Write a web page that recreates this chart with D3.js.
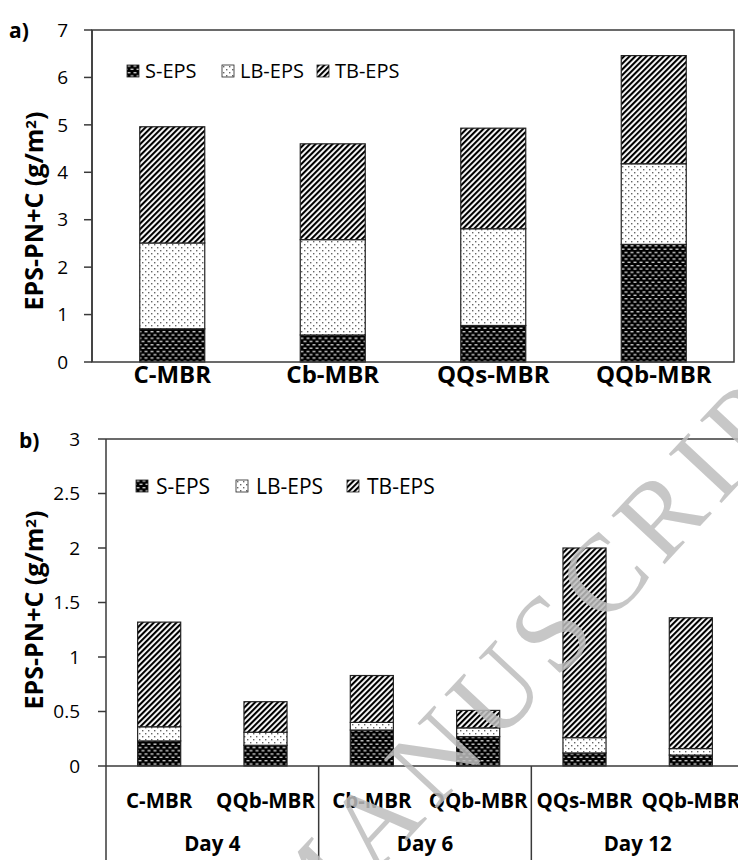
<!DOCTYPE html>
<html>
<head>
<meta charset="utf-8">
<script src="https://cdn.jsdelivr.net/npm/d3@7"></script>
<style>
  body { margin: 0; background: #fff; }
  svg { display: block; font-family: "Open Sans", "Noto Sans", sans-serif; }
</style>
</head>
<body>
<div id="chart"></div>
<script>
// EPS fractions (PN + C, g/m2) — stacked bars, two panels

// ---- Panel a data ----
const catsA = ["C-MBR", "Cb-MBR", "QQs-MBR", "QQb-MBR"];
const sEpsA = [0.70, 0.57, 0.77, 2.48];
const lbEpsA = [1.81, 2.01, 2.04, 1.70];
const tbEpsA = [2.45, 2.02, 2.12, 2.28];
const ticksA = [0, 1, 2, 3, 4, 5, 6, 7];

// ---- Panel b data ----
const catsB = ["C-MBR", "QQb-MBR", "Cb-MBR", "QQb-MBR", "QQs-MBR", "QQb-MBR"];
const daysB = ["Day 4", "Day 6", "Day 12"];
const sEpsB = [0.23, 0.19, 0.33, 0.27, 0.12, 0.10];
const lbEpsB = [0.13, 0.12, 0.07, 0.08, 0.14, 0.06];
const tbEpsB = [0.96, 0.28, 0.43, 0.16, 1.74, 1.20];
const ticksB = [0, 0.5, 1, 1.5, 2, 2.5, 3];

const seriesNames = ["S-EPS", "LB-EPS", "TB-EPS"];
const fills = ["url(#pat-s)", "url(#pat-lb)", "url(#pat-tb)"];

const W = 738, H = 860;
const axisColor = "#3a3a3a";

const svg = d3.select("#chart").append("svg")
  .attr("width", W)
  .attr("height", H);

// ---- patterns ----
const defs = svg.append("defs");

const pS = defs.append("pattern").attr("id", "pat-s")
  .attr("patternUnits", "userSpaceOnUse").attr("width", 6).attr("height", 6.6);
pS.append("rect").attr("width", 6).attr("height", 6.6).attr("fill", "#000");
pS.append("rect").attr("x", 0.5).attr("y", 1).attr("width", 3).attr("height", 1.3).attr("fill", "#d8d8d8");
pS.append("rect").attr("x", 3.5).attr("y", 4.3).attr("width", 3).attr("height", 1.3).attr("fill", "#d8d8d8");
pS.append("rect").attr("x", -2.5).attr("y", 4.3).attr("width", 3).attr("height", 1.3).attr("fill", "#d8d8d8");

const pLB = defs.append("pattern").attr("id", "pat-lb")
  .attr("patternUnits", "userSpaceOnUse").attr("width", 6).attr("height", 6);
pLB.append("rect").attr("width", 6).attr("height", 6).attr("fill", "#fff");
pLB.append("rect").attr("x", 1).attr("y", 1).attr("width", 1.4).attr("height", 1.4).attr("fill", "#666");
pLB.append("rect").attr("x", 4).attr("y", 4).attr("width", 1.4).attr("height", 1.4).attr("fill", "#666");

const pTB = defs.append("pattern").attr("id", "pat-tb")
  .attr("patternUnits", "userSpaceOnUse").attr("width", 4).attr("height", 4)
  .attr("patternTransform", "rotate(45)");
pTB.append("rect").attr("width", 4).attr("height", 4).attr("fill", "#fff");
pTB.append("rect").attr("width", 2.1).attr("height", 4).attr("fill", "#000");

// ---- shared helpers ----
function stackRows(cats, s, lb, tb) {
  return cats.map((c, i) => ({ key: i, cat: c, s: s[i], lb: lb[i], tb: tb[i] }));
}

function drawYAxis(g, y, ticks, fmt, x0, gap) {
  g.append("line")
    .attr("x1", x0).attr("x2", x0)
    .attr("y1", y.range()[1]).attr("y2", y.range()[0])
    .attr("stroke", axisColor).attr("stroke-width", 1.5);
  const t = g.selectAll(".ytick").data(ticks).enter().append("g").attr("class", "ytick");
  t.append("line")
    .attr("x1", x0 - 8).attr("x2", x0)
    .attr("y1", d => y(d)).attr("y2", d => y(d))
    .attr("stroke", axisColor).attr("stroke-width", 1.5);
  t.append("text")
    .attr("x", x0 - gap)
    .attr("y", d => y(d))
    .attr("dy", "0.35em")
    .attr("text-anchor", "end")
    .style("font-size", "19px")
    .text(fmt);
}

function drawBars(g, rows, x, y) {
  const keys = ["s", "lb", "tb"];
  const stacked = d3.stack().keys(keys)(rows);
  g.selectAll(".layer").data(stacked).enter().append("g")
    .attr("class", "layer")
    .attr("fill", (d, i) => fills[i])
    .selectAll("rect").data(d => d).enter().append("rect")
    .attr("x", d => x(d.data.key))
    .attr("width", x.bandwidth())
    .attr("y", d => y(d[1]))
    .attr("height", d => y(d[0]) - y(d[1]))
    .attr("stroke", "#222")
    .attr("stroke-width", 1.2);
}

function drawLegend(g, ly, xs, textOff, size) {
  const item = g.selectAll(".leg").data(seriesNames).enter().append("g")
    .attr("class", "leg")
    .attr("transform", (d, i) => `translate(${xs[i]},${ly})`);
  item.append("rect")
    .attr("x", 0).attr("y", -6)
    .attr("width", 12).attr("height", 12)
    .attr("fill", (d, i) => fills[i])
    .attr("stroke", "#222").attr("stroke-width", 0.8);
  item.append("text")
    .attr("x", textOff).attr("y", 0).attr("dy", "0.36em")
    .style("font-size", size + "px")
    .text(d => d);
}

function yTitle(g, cx, cy) {
  const t = g.append("text")
    .attr("transform", `translate(${cx},${cy}) rotate(-90)`)
    .attr("text-anchor", "middle")
    .style("font-size", "25px")
    .style("font-weight", "bold");
  t.append("tspan").text("EPS-PN+C (g/m");
  t.append("tspan").attr("dy", "-0.45em").style("font-size", "15px").text("2");
  t.append("tspan").attr("dy", "0.3em").text(")");
}

// ---- Panel a ----
const a = { left: 92, right: 734, top: 30, bottom: 362 };
const gA = svg.append("g");
const xA = d3.scaleBand().domain(catsA.map((c, i) => i)).range([a.left, a.right]).paddingInner(0.595).paddingOuter(0.2975);
const yA = d3.scaleLinear().domain([0, 7]).range([a.bottom, a.top]);

drawBars(gA, stackRows(catsA, sEpsA, lbEpsA, tbEpsA), xA, yA);

// frame
gA.append("rect")
  .attr("x", a.left).attr("y", a.top)
  .attr("width", a.right - a.left).attr("height", a.bottom - a.top)
  .attr("fill", "none").attr("stroke", axisColor).attr("stroke-width", 1.5);
drawYAxis(gA, yA, ticksA, d => d, a.left, 24);

gA.selectAll(".xlab").data(catsA).enter().append("text")
  .attr("x", (d, i) => xA(i) + xA.bandwidth() / 2)
  .attr("y", 383)
  .attr("text-anchor", "middle")
  .style("font-size", "24px").style("font-weight", "bold")
  .text(d => d);

drawLegend(gA, 71, [127, 222, 317], 18, 20);
yTitle(gA, 43, 211);
gA.append("text").attr("x", 9).attr("y", 38)
  .style("font-size", "21px").style("font-weight", "bold").text("a)");

// ---- Panel b ----
const b = { left: 106, right: 744, top: 439, bottom: 766 };
const gB = svg.append("g");
const xB = d3.scaleBand().domain(catsB.map((c, i) => i)).range([b.left, b.right]).paddingInner(0.595).paddingOuter(0.2975);
const yB = d3.scaleLinear().domain([0, 3]).range([b.bottom, b.top]);

drawBars(gB, stackRows(catsB, sEpsB, lbEpsB, tbEpsB), xB, yB);

gB.append("line")
  .attr("x1", b.left).attr("x2", W)
  .attr("y1", b.top).attr("y2", b.top)
  .attr("stroke", axisColor).attr("stroke-width", 1.5);
gB.append("line")
  .attr("x1", b.left).attr("x2", W)
  .attr("y1", b.bottom).attr("y2", b.bottom)
  .attr("stroke", axisColor).attr("stroke-width", 1.5);
drawYAxis(gB, yB, ticksB, d => d, b.left, 26);

// group separators (two categories per day)
const groupStep = xB.step() * 2;
gB.selectAll(".sep").data(d3.range(daysB.length)).enter().append("line")
  .attr("x1", i => b.left + i * groupStep).attr("x2", i => b.left + i * groupStep)
  .attr("y1", b.bottom).attr("y2", H)
  .attr("stroke", axisColor).attr("stroke-width", 1.5);

gB.selectAll(".xlab").data(catsB).enter().append("text")
  .attr("x", (d, i) => xB(i) + xB.bandwidth() / 2)
  .attr("y", 808)
  .attr("text-anchor", "middle")
  .style("font-size", "20.5px").style("font-weight", "bold")
  .text(d => d);

gB.selectAll(".daylab").data(daysB).enter().append("text")
  .attr("x", (d, i) => b.left + (i + 0.5) * groupStep)
  .attr("y", 851)
  .attr("text-anchor", "middle")
  .style("font-size", "20.5px").style("font-weight", "bold")
  .text(d => d);

drawLegend(gB, 486, [136, 236, 347], 20, 21);
yTitle(gB, 43, 610);
gB.append("text").attr("x", 19).attr("y", 448)
  .style("font-size", "21px").style("font-weight", "bold").text("b)");

// faint watermark from the source page
svg.append("text")
  .attr("transform", "translate(300,955) rotate(-47)")
  .style("font-family", "'Liberation Serif', 'DejaVu Serif', serif")
  .style("font-size", "110px")
  .style("letter-spacing", "10px")
  .attr("fill", "#bdbdbd")
  .attr("fill-opacity", 0.85)
  .text("MANUSCRIPT");
</script>
</body>
</html>
